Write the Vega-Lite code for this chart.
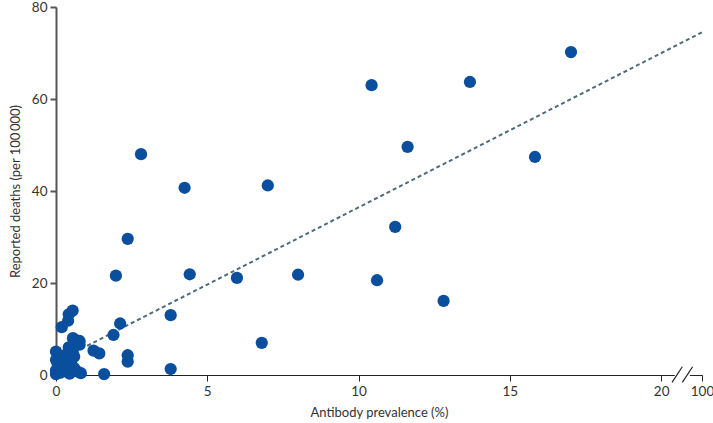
{
  "$schema": "https://vega.github.io/schema/vega-lite/v6.json",
  "autosize": "none",
  "width": 646,
  "height": 368,
  "padding": {"left": 56, "top": 7, "right": 11, "bottom": 48},
  "config": {
    "view": {"stroke": null},
    "font": "Lato",
    "axis": {"labelFont": "Lato", "titleFont": "Lato", "labelFontSize": 13.5, "titleFontSize": 13, "labelColor": "#333", "titleColor": "#333", "titleFontWeight": "normal", "grid": false, "tickSize": 6}
  },
  "datasets": {
    "pts": [
      {"x": 17.02, "y": 70.2}, {"x": 13.68, "y": 63.7}, {"x": 10.43, "y": 63.0}, {"x": 11.62, "y": 49.6},
      {"x": 15.83, "y": 47.4}, {"x": 2.81, "y": 48.0}, {"x": 4.25, "y": 40.7}, {"x": 7.0, "y": 41.2},
      {"x": 11.21, "y": 32.2}, {"x": 2.37, "y": 29.6}, {"x": 4.42, "y": 21.9}, {"x": 5.98, "y": 21.1},
      {"x": 8.0, "y": 21.8}, {"x": 10.61, "y": 20.6}, {"x": 12.81, "y": 16.1}, {"x": 3.79, "y": 13.0},
      {"x": 6.8, "y": 7.0}, {"x": 3.79, "y": 1.3}, {"x": 1.98, "y": 21.6}, {"x": 2.12, "y": 11.2},
      {"x": 1.9, "y": 8.7}, {"x": 1.24, "y": 5.3}, {"x": 1.43, "y": 4.7}, {"x": 2.37, "y": 4.3},
      {"x": 2.37, "y": 2.9}, {"x": 1.59, "y": 0.2}, {"x": 0.82, "y": 0.4}, {"x": 0.55, "y": 14.0},
      {"x": 0.42, "y": 13.2}, {"x": 0.4, "y": 11.8}, {"x": 0.19, "y": 10.4}, {"x": 0.65, "y": 7.6},
      {"x": 0.78, "y": 7.4}, {"x": 0.78, "y": 6.6}, {"x": 0.42, "y": 6.0}, {"x": 0.0, "y": 5.1},
      {"x": 0.55, "y": 5.0}, {"x": 0.6, "y": 4.0}, {"x": 0.0, "y": 3.3}, {"x": 0.2, "y": 3.6},
      {"x": 0.3, "y": 2.5}, {"x": 0.1, "y": 2.0}, {"x": 0.0, "y": 1.0}, {"x": 0.5, "y": 2.8},
      {"x": 0.15, "y": 0.5}, {"x": 0.35, "y": 1.2}, {"x": 0.0, "y": 0.2}, {"x": 0.6, "y": 1.5},
      {"x": 0.25, "y": 4.2}, {"x": 0.05, "y": 2.6}, {"x": 0.45, "y": 0.3}, {"x": 0.7, "y": 0.8},
      {"x": 0.56, "y": 8.0}
    ],
    "fit": [{"x": 0, "y": 2.9}, {"x": 21.35, "y": 74.5}],
    "gap": [{"x": 20.45, "x2": 20.95, "y": 0}],
    "slashes": [
      {"x": 20.36, "x2": 20.7, "y": -1.6, "y2": 1.8},
      {"x": 20.7, "x2": 21.04, "y": -1.6, "y2": 1.8}
    ]
  },
  "layer": [
    {
      "data": {"name": "fit"},
      "mark": {"type": "line", "color": "#4d6b78", "strokeDash": [4, 3], "strokeWidth": 2},
      "encoding": {
        "x": {"field": "x", "type": "quantitative", "scale": {"domain": [0, 21.35], "nice": false, "zero": false},
          "axis": {"values": [0, 5, 10, 15, 20, 21.35], "labelExpr": "datum.value > 21 ? '100' : datum.label", "labelFlush": false, "labelOverlap": false, "title": "Antibody prevalence (%)", "domainColor": "#222", "tickColor": "#222", "domainWidth": 1, "titlePadding": 9, "labelPadding": 3}},
        "y": {"field": "y", "type": "quantitative", "scale": {"domain": [0, 80], "nice": false},
          "axis": {"values": [0, 20, 40, 60, 80], "title": "Reported deaths (per 100\u2009000)", "domainColor": "#555", "tickColor": "#555", "domainWidth": 2, "tickWidth": 2, "titlePadding": 9, "labelPadding": 3}}
      }
    },
    {
      "data": {"name": "pts"},
      "mark": {"type": "point", "filled": true, "size": 150, "color": "#0a4f9e", "opacity": 1},
      "encoding": {
        "x": {"field": "x", "type": "quantitative"},
        "y": {"field": "y", "type": "quantitative"}
      }
    },
    {
      "data": {"name": "gap"},
      "mark": {"type": "rule", "color": "white", "strokeWidth": 4},
      "encoding": {
        "x": {"field": "x", "type": "quantitative"},
        "x2": {"field": "x2"},
        "y": {"field": "y", "type": "quantitative"}
      }
    },
    {
      "data": {"name": "slashes"},
      "mark": {"type": "rule", "color": "#222", "strokeWidth": 1.2},
      "encoding": {
        "x": {"field": "x", "type": "quantitative"},
        "x2": {"field": "x2"},
        "y": {"field": "y", "type": "quantitative"},
        "y2": {"field": "y2"}
      }
    }
  ]
}
